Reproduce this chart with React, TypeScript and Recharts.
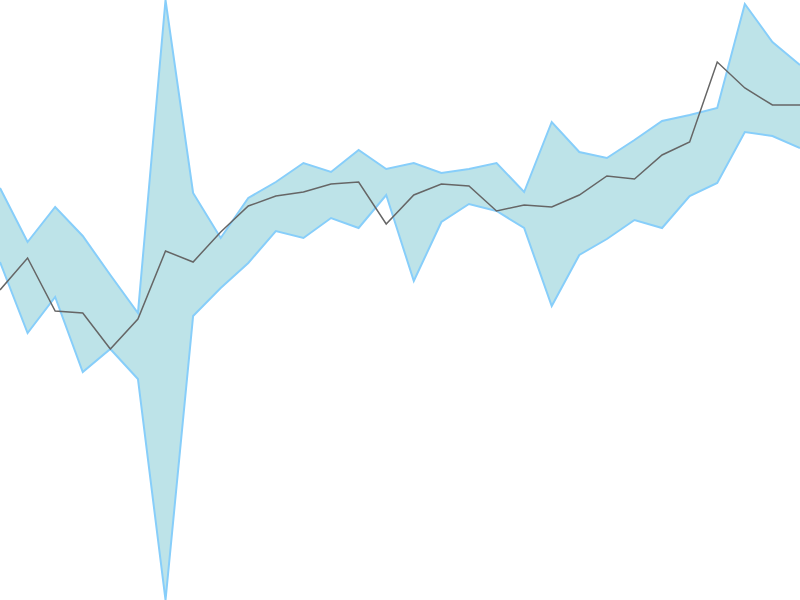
import { ComposedChart, Area, Line, XAxis, YAxis } from "recharts";

// values (0 = bottom edge, 600 = top edge)
const STEPS = Array.from({ length: 30 }, (_, i) => i);
const BAND_HIGH = [
  412, 358, 393, 364, 325, 287, 600, 407, 362, 402, 418, 437, 428, 450, 431,
  437, 427, 431, 437, 408, 478, 448, 442, 460, 479, 485, 492, 596, 558, 535,
];
const BAND_LOW = [
  338, 267, 303, 228, 251, 221, 0, 284, 312, 337, 369, 362, 382, 372, 405,
  319, 378, 396, 389, 372, 294, 345, 361, 380, 372, 404, 417, 468, 464, 452,
];
const MEAN = [
  310, 342, 289, 287, 251, 281, 349, 338, 368, 394, 404, 408, 416, 418, 376,
  405, 416, 414, 389, 395, 393, 405, 424, 421, 445, 458, 538, 512, 495, 495,
];

const data = STEPS.map((step, i) => ({
  step,
  band: [BAND_LOW[i], BAND_HIGH[i]],
  mean: MEAN[i],
}));

export default function App() {
  return (
    <div style={{ position: "absolute", left: 0, top: 0 }}>
      <ComposedChart
        width={800}
        height={600}
        data={data}
        margin={{ top: 0, right: 0, bottom: 0, left: 0 }}
      >
        <XAxis dataKey="step" type="number" domain={[0, 29]} hide />
        <YAxis domain={[0, 600]} hide />
        <Area
          type="linear"
          dataKey="band"
          fill="#bde3e8"
          fillOpacity={1}
          stroke="#87cefa"
          strokeWidth={2}
          dot={false}
          activeDot={false}
          isAnimationActive={false}
        />
        <Line
          type="linear"
          dataKey="mean"
          stroke="#666666"
          strokeWidth={1.5}
          dot={false}
          activeDot={false}
          isAnimationActive={false}
        />
      </ComposedChart>
    </div>
  );
}
